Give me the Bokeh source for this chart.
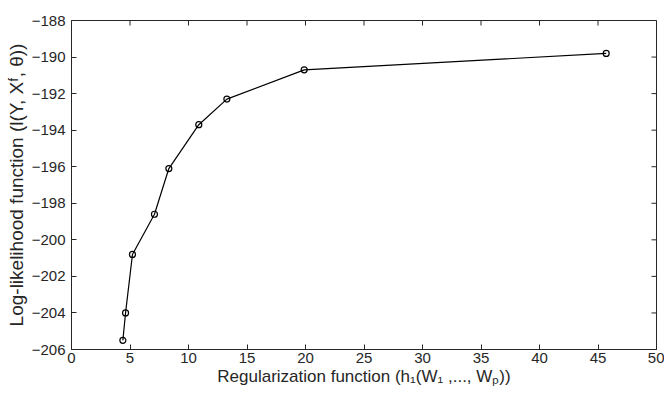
from bokeh.plotting import figure
from bokeh.models import FixedTicker, Range1d
from bokeh.embed import file_html
from bokeh.resources import INLINE

reg = [4.39, 4.62, 5.21, 7.09, 8.32, 10.88, 13.28, 19.89, 45.7]
loglik = [-205.5, -204.0, -200.8, -198.6, -196.1, -193.7, -192.3, -190.7, -189.8]
xticks = [0, 5, 10, 15, 20, 25, 30, 35, 40, 45, 50]
yticks = [-206, -204, -202, -200, -198, -196, -194, -192, -190, -188]

FONT = "Liberation Sans"
TXT = "#262626"
FW, FH = 585, 329
XMIN, XMAX = 0, 50
YMIN, YMAX = -206, -188
TICK = 5

p = figure(width=664, height=392, output_backend="svg", toolbar_location=None,
           x_range=Range1d(XMIN, XMAX), y_range=Range1d(YMIN, YMAX),
           min_border_left=71, min_border_top=20, min_border_right=8, min_border_bottom=43)
p.grid.visible = False
p.outline_line_color = TXT
p.outline_line_width = 1
p.background_fill_color = "white"
p.border_fill_color = "white"

p.xaxis.ticker = FixedTicker(ticks=xticks)
p.yaxis.ticker = FixedTicker(ticks=yticks)
p.xaxis.axis_label = "Regularization function (h\u2081(W\u2081 ,..., W\u209a))"
p.yaxis.axis_label = "Log-likelihood function (l(Y, X\u1da0, \u03b8))"

for ax in [p.xaxis[0], p.yaxis[0]]:
    ax.major_tick_in = TICK
    ax.major_tick_out = 0
    ax.minor_tick_in = 0
    ax.minor_tick_out = 0
    ax.axis_line_color = TXT
    ax.major_tick_line_color = TXT
    ax.major_label_text_font = FONT
    ax.major_label_text_font_size = "15px"
    ax.major_label_text_color = TXT
    ax.axis_label_text_font = FONT
    ax.axis_label_text_font_style = "normal"
    ax.axis_label_text_color = TXT
p.xaxis.axis_label_text_font_size = "17px"
p.yaxis.axis_label_text_font_size = "19px"
p.xaxis.major_label_standoff = 3
p.xaxis.axis_label_standoff = 1
p.yaxis.major_label_standoff = 6
p.yaxis.axis_label_standoff = 2

# inward ticks on the top and right edges of the box
dy = TICK * (YMAX - YMIN) / FH
dx = TICK * (XMAX - XMIN) / FW
p.segment(x0=xticks, y0=[YMAX] * len(xticks), x1=xticks, y1=[YMAX - dy] * len(xticks),
          line_color=TXT, line_width=1)
p.segment(x0=[XMAX] * len(yticks), y0=yticks, x1=[XMAX - dx] * len(yticks), y1=yticks,
          line_color=TXT, line_width=1)

p.line(reg, loglik, line_color="black", line_width=1.2)
p.scatter(reg, loglik, marker="circle", size=6, fill_color=None, line_color="black", line_width=1.2)

open("out.html", "w").write(file_html(p, INLINE))
